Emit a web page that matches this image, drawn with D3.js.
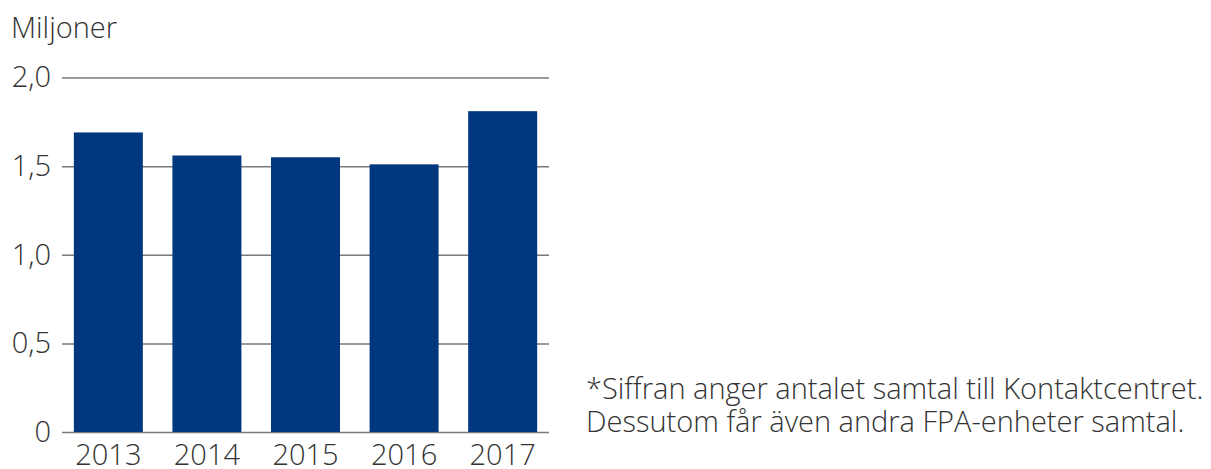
<!DOCTYPE html>
<html>
<head>
<meta charset="utf-8">
<script src="https://cdn.jsdelivr.net/npm/d3@7"></script>
<style>
  body { margin: 0; background: #fff; }
  svg text { font-family: "Open Sans", sans-serif; font-weight: 300; fill: #333; }
</style>
</head>
<body>
<div id="chart"></div>
<script>
// data
var years = ["2013", "2014", "2015", "2016", "2017"];
var calls = [1.69, 1.56, 1.55, 1.51, 1.81];
var yTicks = [0, 0.5, 1.0, 1.5, 2.0];
var yTitle = "Miljoner";
var footnote = [
  "*Siffran anger antalet samtal till Kontaktcentret.",
  "Dessutom får även andra FPA-enheter samtal."
];

var width = 1211, height = 469;
var margin = { left: 62, right: 549, top: 77.5, bottom: 432 };

var svg = d3.select("#chart").append("svg")
    .attr("width", width)
    .attr("height", height);

var x = d3.scaleBand()
    .domain(years)
    .range([margin.left, margin.right])
    .paddingInner(0.3)
    .paddingOuter(0.12);

var y = d3.scaleLinear()
    .domain([0, 2])
    .range([margin.bottom, margin.top]);

// gridlines + tick labels
var yAxis = d3.axisLeft(y)
    .tickValues(yTicks)
    .tickSize(-(margin.right - margin.left))
    .tickPadding(11)
    .tickFormat(function(d) { return d === 0 ? "0" : d3.format(".1f")(d).replace(".", ","); });

var gy = svg.append("g")
    .attr("transform", "translate(" + margin.left + ",0)")
    .call(yAxis);
gy.select(".domain").remove();
gy.selectAll(".tick line").attr("stroke", "#7a7a7a").attr("stroke-width", 1.5);
gy.selectAll(".tick text")
    .attr("font-size", 29)
    .attr("font-family", null)
    .attr("fill", "#333");

// bars
svg.selectAll(".bar").data(calls)
  .enter().append("rect")
    .attr("class", "bar")
    .attr("x", function(d, i) { return x(years[i]); })
    .attr("width", x.bandwidth())
    .attr("y", function(d) { return y(d); })
    .attr("height", function(d) { return y(0) - y(d); })
    .attr("fill", "#00377f");

// x labels
var xAxis = d3.axisBottom(x).tickSize(0).tickPadding(0);
var gx = svg.append("g")
    .attr("transform", "translate(0," + margin.bottom + ")")
    .call(xAxis);
gx.select(".domain").remove();
gx.selectAll(".tick text")
    .attr("font-size", 29)
    .attr("font-family", null)
    .attr("dy", 33)
    .attr("fill", "#333");

// axis title
svg.append("text")
    .attr("x", 11)
    .attr("y", 38)
    .attr("font-size", 29)
    .text(yTitle);

// footnote
svg.append("g").selectAll("text").data(footnote)
  .enter().append("text")
    .attr("x", 586)
    .attr("y", function(d, i) { return 399 + i * 32.5; })
    .attr("font-size", 29)
    .text(function(d) { return d; });
</script>
</body>
</html>
